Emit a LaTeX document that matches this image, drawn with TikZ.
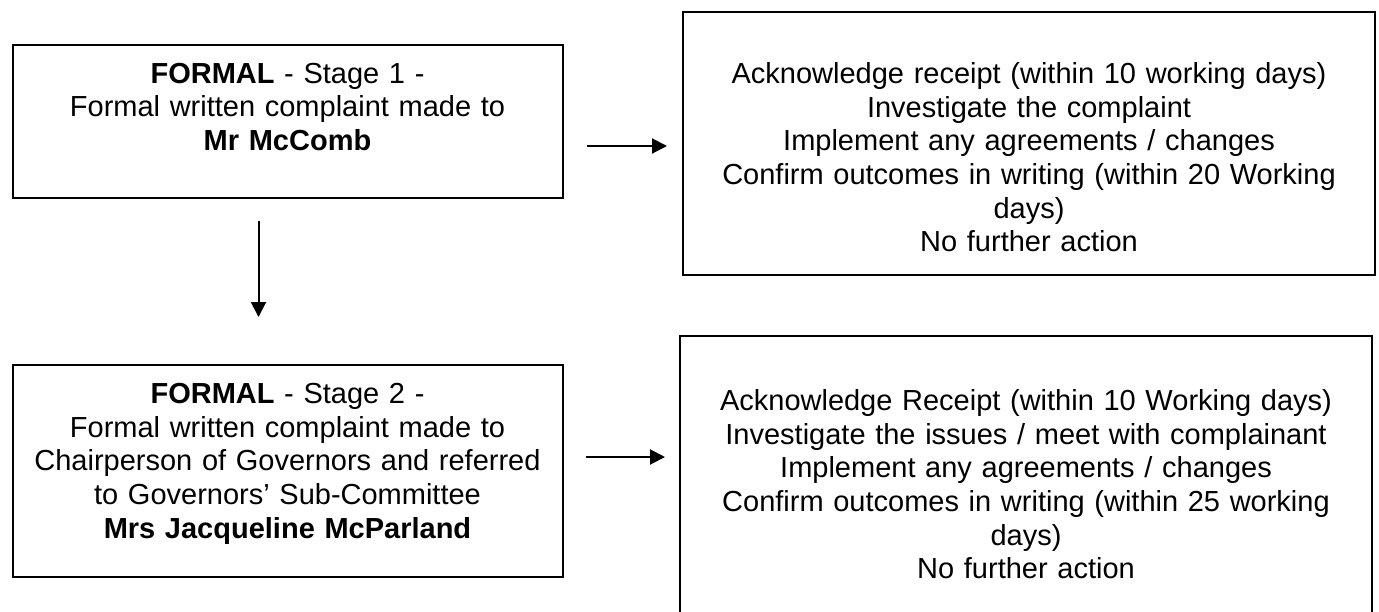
\documentclass[tikz,border=0pt]{standalone}
\usepackage{fontspec}
\setmainfont{Liberation Sans}
\usetikzlibrary{arrows.meta}

\begin{document}
\begin{tikzpicture}[node distance=174.75pt]
    \tikzstyle{stagebox} = [rectangle, draw=black, line width=1pt, minimum width=275pt, inner xsep=4pt, text width=265pt, align=center, font=\fontsize{14.5pt}{16.85pt}\selectfont]
    \tikzstyle{actionbox} = [rectangle, draw=black, line width=1pt, minimum width=346pt, inner xsep=4pt, text width=336pt, align=center, font=\fontsize{14.5pt}{16.85pt}\selectfont]
    \tikzstyle{arrow} = [line width=1pt, -{Triangle[length=7.5pt, width=7.5pt]}]

    \useasboundingbox (0,0) rectangle (689.5pt,-305.5pt);
    \clip (0,0) rectangle (689.5pt,-305.5pt);

    \node (stage1) [stagebox, minimum height=76.5pt] at (143.75pt,-60.75pt) {\textbf{FORMAL} - Stage 1 -\\ Formal written complaint made to\\ \textbf{Mr McComb}\\[-2pt] \mbox{}};

    \node (stage2) [stagebox, minimum height=106pt, below of=stage1] {\textbf{FORMAL} - Stage 2 -\\ Formal written complaint made to\\ Chairperson of Governors and referred\\ to Governors’ Sub-Committee\\ \textbf{Mrs Jacqueline McParland}\\[-6.5pt] \mbox{}};

    \node (actions1) [actionbox, minimum height=131.5pt, right of=stage1, xshift=196pt, yshift=-11pt] {\mbox{}\\[7.5pt] Acknowledge receipt (within 10 working days)\\ Investigate the complaint\\ Implement any agreements / changes\\ Confirm outcomes in writing (within 20 Working\\ days)\\ No further action};

    \node (actions2) [actionbox, minimum height=142pt, right of=stage2, xshift=194.5pt, yshift=-3.5pt] {\mbox{}\\ Acknowledge Receipt (within 10 Working days)\\ Investigate the issues / meet with complainant\\ Implement any agreements / changes\\ Confirm outcomes in writing (within 25 working\\ days)\\ No further action};

    \coordinate (toparrow) at ([yshift=-12.25pt]stage1.east);
    \coordinate (lowarrow) at ([yshift=7pt]stage2.east);

    \draw [arrow, shorten <=11.5pt, shorten >=7.5pt] (toparrow) -- (toparrow -| actions1.west);
    \draw [arrow, shorten <=11pt, shorten >=23.5pt] ([xshift=-14.5pt]stage1.south) -- ([xshift=-14.5pt]stage2.north);
    \draw [arrow, shorten <=11pt, shorten >=7pt] (lowarrow) -- (lowarrow -| actions2.west);

\end{tikzpicture}
\end{document}
